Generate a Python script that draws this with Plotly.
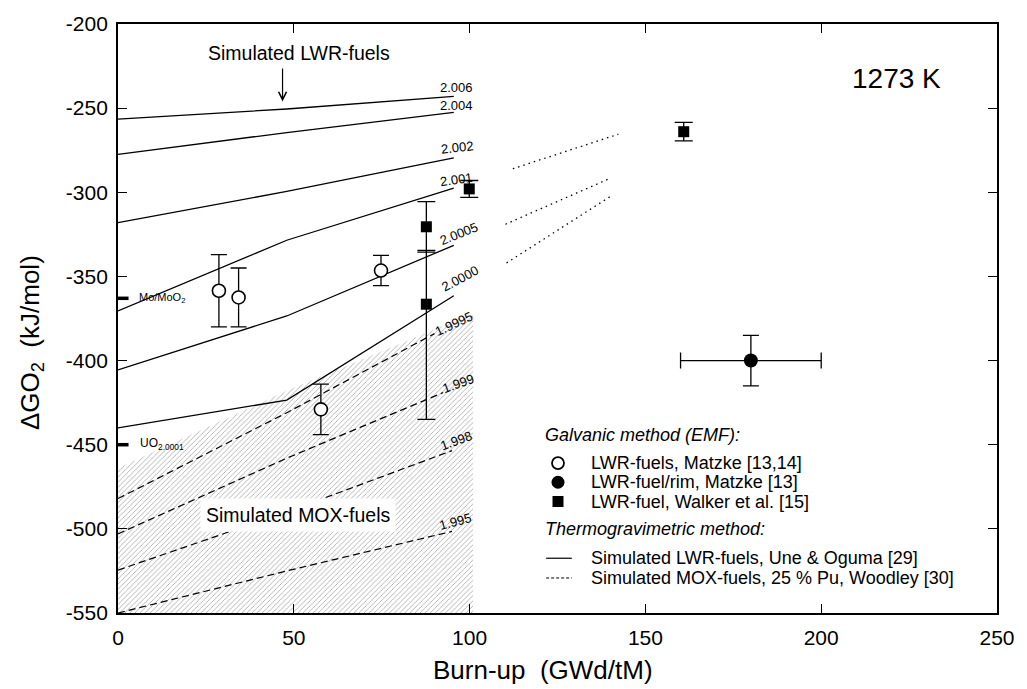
import plotly.graph_objects as go

# ---------------- data ----------------
# Simulated LWR-fuels (Une & Oguma), solid lines, labelled by O/M ratio
lwr_x = [0, 48, 95.5]
lwr_2006 = [-256.5, -250.5, -243.0]
lwr_2004 = [-277.5, -264.5, -252.5]
lwr_2002 = [-318.0, -299.5, -279.5]
lwr_2001 = [-370.5, -328.5, -297.5]
lwr_20005 = [-405.5, -373.5, -331.5]
lwr_20000 = [-440.0, -423.5, -361.5]
lwr_labels = ["2.006", "2.004", "2.002", "2.001", "2.0005", "2.0000"]

# Simulated MOX-fuels (Woodley), dashed lines
mox_19995_x = [0, 48, 90]
mox_19995 = [-482.0, -431.0, -384.0]
mox_1999_x = [0, 48, 92.5]
mox_1999 = [-503.0, -458.0, -419.0]
mox_1998_x = [0, 48, 95]
mox_1998 = [-524.5, -490.0, -453.5]
mox_1995_x = [0, 48, 95]
mox_1995 = [-550.0, -525.0, -501.5]
mox_labels = ["1.9995", "1.999", "1.998", "1.995"]

# hatched MOX region (upper boundary)
hatch_x = [0, 48, 101]
hatch_top = [-464.0, -418.0, -372.0]
hatch_bottom = -550.0

# dotted extrapolations
dot_a_x = [112.3, 142.3]
dot_a_y = [-286.0, -265.5]
dot_b_x = [110.2, 140.2]
dot_b_y = [-319.0, -291.5]
dot_c_x = [110.5, 140.4]
dot_c_y = [-342.0, -302.0]

# Galvanic (EMF) measurements
matzke_x = [28.7, 34.3, 74.8, 57.7]
matzke_y = [-358.5, -362.5, -346.5, -429.0]
matzke_err = [21.5, 17.5, 9.0, 15.0]

rim_x = [180.0]
rim_y = [-400.0]
rim_xerr = [20.0]
rim_yerr = [15.0]

walker_x = [99.9, 87.7, 87.7, 160.9]
walker_y = [-298.0, -320.5, -366.5, -264.0]
walker_err_plus = [5.0, 15.0, 32.0, 5.5]
walker_err_minus = [5.0, 15.0, 68.5, 5.5]

# reference levels on the y axis
mo_moo2 = -363.0
uo2_0001 = -450.0

x_ticks = [0, 50, 100, 150, 200, 250]
x_ticktext = ["0", "50", "100", "150", "200", "250"]
y_ticks = [-550, -500, -450, -400, -350, -300, -250, -200]
y_ticktext = ["-550", "-500", "-450", "-400", "-350", "-300", "-250", "-200"]

FONT = "Liberation Sans, Arial, sans-serif"

fig = go.Figure()

# hatched area
fig.add_trace(go.Scatter(
    x=hatch_x + [hatch_x[-1], hatch_x[0]],
    y=hatch_top + [hatch_bottom, hatch_bottom],
    fill="toself", mode="lines", line=dict(width=0),
    fillcolor="rgba(255,255,255,0)",
    fillpattern=dict(shape="/", fgcolor="#9a9a9a", bgcolor="white",
                     size=3.6, solidity=0.22, fgopacity=0.9),
    hoverinfo="skip", showlegend=False))

for ys in [lwr_2006, lwr_2004, lwr_2002, lwr_2001, lwr_20005, lwr_20000]:
    fig.add_trace(go.Scatter(x=lwr_x, y=ys, mode="lines",
                             line=dict(color="black", width=1.3),
                             showlegend=False, hoverinfo="skip"))

for xs, ys in [(mox_19995_x, mox_19995), (mox_1999_x, mox_1999),
               (mox_1998_x, mox_1998), (mox_1995_x, mox_1995)]:
    fig.add_trace(go.Scatter(x=xs, y=ys, mode="lines",
                             line=dict(color="black", width=1.2, dash="7px,4px"),
                             showlegend=False, hoverinfo="skip"))

for xs, ys in [(dot_a_x, dot_a_y), (dot_b_x, dot_b_y), (dot_c_x, dot_c_y)]:
    fig.add_trace(go.Scatter(x=xs, y=ys, mode="lines",
                             line=dict(color="black", width=1.3, dash="1.5px,4px"),
                             showlegend=False, hoverinfo="skip"))

# reference ticks on y axis
for lvl in [mo_moo2, uo2_0001]:
    fig.add_trace(go.Scatter(x=[0, 3], y=[lvl, lvl], mode="lines",
                             line=dict(color="black", width=3.5),
                             showlegend=False, hoverinfo="skip"))

# measurements
fig.add_trace(go.Scatter(
    x=matzke_x, y=matzke_y, mode="markers",
    marker=dict(symbol="circle", size=13, color="white",
                line=dict(color="black", width=1.6)),
    error_y=dict(type="data", array=matzke_err, color="black",
                 thickness=1.3, width=8),
    showlegend=False))

fig.add_trace(go.Scatter(
    x=rim_x, y=rim_y, mode="markers",
    marker=dict(symbol="circle", size=14, color="black"),
    error_x=dict(type="data", array=rim_xerr, color="black", thickness=1.3, width=8),
    error_y=dict(type="data", array=rim_yerr, color="black", thickness=1.3, width=8),
    showlegend=False))

fig.add_trace(go.Scatter(
    x=walker_x, y=walker_y, mode="markers",
    marker=dict(symbol="square", size=11, color="black"),
    error_y=dict(type="data", symmetric=False, array=walker_err_plus,
                 arrayminus=walker_err_minus, color="black", thickness=1.3, width=9),
    showlegend=False))

ann = []
# line labels
lwr_label_pos = [(91, -237.5, 0), (91, -248.5, 0), (91, -273.5, -6),
                 (90.6, -292.5, -8), (97.1, -324.5, -22), (97.3, -351, -28)]
for txt, (x, y, a) in zip(lwr_labels, lwr_label_pos):
    ann.append(dict(x=x, y=y, text=txt, showarrow=False, textangle=a,
                    xanchor="left" if a > -10 else "center", yanchor="middle",
                    font=dict(size=13, family=FONT, color="black")))
mox_label_pos = [(95.7, -378, -25), (96.8, -413.5, -20), (96.4, -447.5, -20), (96, -495.5, -15)]
for txt, (x, y, a) in zip(mox_labels, mox_label_pos):
    ann.append(dict(x=x, y=y, text=txt, showarrow=False, textangle=a, yanchor="middle",
                    font=dict(size=13, family=FONT, color="black")))

ann += [
    dict(x=5.3, y=mo_moo2, text="Mo/MoO<sub>2</sub>", showarrow=False, xanchor="left",
         yanchor="middle", font=dict(size=11, family=FONT, color="black")),
    dict(x=5.6, y=uo2_0001 + 0.5, text="UO<sub>2.0001</sub>", showarrow=False, xanchor="left",
         yanchor="middle", font=dict(size=12, family=FONT, color="black")),
    dict(x=51.6, y=-217, text="Simulated LWR-fuels", showarrow=False, yanchor="middle",
         font=dict(size=19.5, family=FONT, color="black")),
    dict(x=46.8, y=-246, ax=46.8, ay=-225.5, axref="x", ayref="y", text="",
         showarrow=True, arrowhead=5, arrowsize=1.3, arrowwidth=1.2, arrowcolor="black"),
    dict(x=51.2, y=-491.5, text="Simulated MOX-fuels", showarrow=False, yanchor="middle",
         bgcolor="white", borderpad=5,
         font=dict(size=19.5, family=FONT, color="black")),
    dict(x=234.5, y=-232.5, text="1273 K", showarrow=False, xanchor="right", yanchor="middle",
         font=dict(size=28, family=FONT, color="black")),
    # axis titles
    dict(xref="paper", yref="paper", x=0.483, y=-0.097, text="Burn-up\u00a0\u00a0(GWd/tM)",
         showarrow=False, xanchor="center", yanchor="middle",
         font=dict(size=26, family=FONT, color="black")),
    dict(xref="paper", yref="paper", x=-0.099, y=0.46, text="ΔGO<sub>2</sub>\u00a0\u00a0(kJ/mol)",
         showarrow=False, textangle=-90, xanchor="center", yanchor="middle",
         font=dict(size=26, family=FONT, color="black")),
]

# manual legend
W, H = 889.0, 597.0
def px(x):
    return (x - 118) / W
def py(y):
    return (613 - y) / H

leg_font = dict(size=18, family=FONT, color="black")
legend_texts = [
    (549, 433, "Galvanic method (EMF):", True),
    (595, 461, "LWR-fuels, Matzke [13,14]", False),
    (595, 480.5, "LWR-fuel/rim, Matzke [13]", False),
    (595, 500, "LWR-fuel, Walker et al. [15]", False),
    (549, 528, "Thermogravimetric method:", True),
    (595, 557.5, "Simulated LWR-fuels, Une & Oguma [29]", False),
    (595, 577.5, "Simulated MOX-fuels, 25 % Pu, Woodley [30]", False),
]
for x, y, t, it in legend_texts:
    ann.append(dict(xref="paper", yref="paper", x=px(x), y=py(y), text=t,
                    xanchor="left", yanchor="middle", showarrow=False, borderpad=0,
                    font=dict(leg_font, style="italic") if it else leg_font))

shapes = [
    dict(type="circle", xref="paper", yref="paper", xsizemode="pixel", ysizemode="pixel",
         xanchor=px(563), yanchor=py(461), x0=-6, x1=6, y0=-6, y1=6,
         line=dict(color="black", width=1.8), fillcolor="white"),
    dict(type="circle", xref="paper", yref="paper", xsizemode="pixel", ysizemode="pixel",
         xanchor=px(563), yanchor=py(480.5), x0=-6.5, x1=6.5, y0=-6.5, y1=6.5,
         line=dict(color="black", width=0), fillcolor="black"),
    dict(type="rect", xref="paper", yref="paper", xsizemode="pixel", ysizemode="pixel",
         xanchor=px(563), yanchor=py(500), x0=-5.5, x1=5.5, y0=-5.5, y1=5.5,
         line=dict(color="black", width=0), fillcolor="black"),
    dict(type="line", xref="paper", yref="paper", x0=px(551), x1=px(577), y0=py(557.5), y1=py(557.5),
         line=dict(color="black", width=1.2)),
    dict(type="line", xref="paper", yref="paper", x0=px(551), x1=px(577), y0=py(577.5), y1=py(577.5),
         line=dict(color="black", width=1.0, dash="3px,2px")),
]

fig.update_layout(
    width=1027, height=689,
    margin=dict(l=118, r=20, t=16, b=76),
    paper_bgcolor="white", plot_bgcolor="white",
    font=dict(family=FONT, color="black"),
    showlegend=False,
    annotations=ann, shapes=shapes,
)
fig.update_xaxes(range=[0, 250], tickvals=x_ticks, ticktext=x_ticktext, ticks="inside",
                 ticklen=9, tickwidth=1.3,
                 tickcolor="black", showline=True, linecolor="black", linewidth=1.8,
                 mirror="ticks", showgrid=False, zeroline=False,
                 tickfont=dict(size=21, family=FONT, color="black"), ticklabelstandoff=5)
fig.update_yaxes(range=[-550, -200], tickvals=y_ticks, ticktext=y_ticktext, ticks="inside",
                 ticklen=9, tickwidth=1.3,
                 tickcolor="black", showline=True, linecolor="black", linewidth=1.8,
                 mirror="ticks", showgrid=False, zeroline=False,
                 tickfont=dict(size=21, family=FONT, color="black"), ticklabelstandoff=4)

fig.write_html("out.html")
